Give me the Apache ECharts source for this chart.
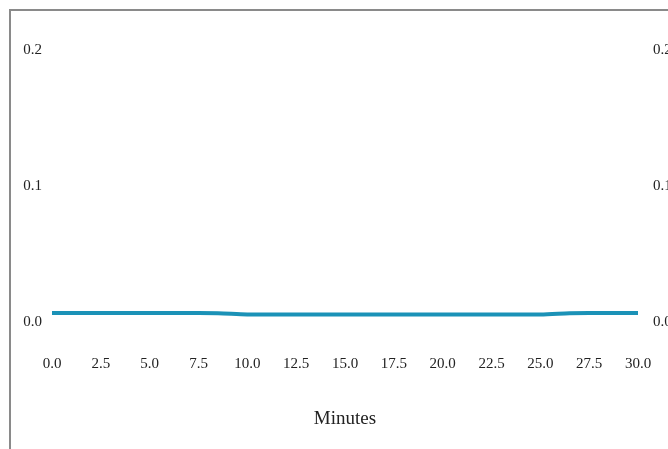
<!DOCTYPE html>
<html>
<head>
<meta charset="utf-8">
<script src="https://cdn.jsdelivr.net/npm/echarts@6/dist/echarts.min.js"></script>
<style>
  html, body { margin: 0; padding: 0; background: #fff; }
  #chart { width: 668px; height: 449px; }
</style>
</head>
<body>
<div id="chart"></div>
<script>
// Sampled readings over half an hour
const minutes = [0, 2.5, 5, 7.5, 8.5, 10, 12.5, 15, 17.5, 20, 22.5, 25, 26.5, 27.5, 30];
const values  = [0.0066, 0.0066, 0.0066, 0.0066, 0.0065, 0.0056, 0.0055, 0.0055, 0.0055, 0.0055, 0.0055, 0.0055, 0.0064, 0.0066, 0.0066];

const xTicks = [0, 30, 2.5];      // min, max, step
const yTicks = [0, 0.2, 0.1];     // min, max, step
const xTitle = 'Minutes';

const font = "'Liberation Serif', 'Times New Roman', serif";
const labelStyle = { fontFamily: font, fontSize: 15, color: '#222' };

const chart = echarts.init(document.getElementById('chart'), null, { renderer: 'canvas' });

chart.setOption({
  animation: false,
  backgroundColor: '#fff',
  graphic: [{
    type: 'rect',
    shape: { x: 10, y: 10, width: 700, height: 500 },
    style: { fill: 'none', stroke: '#8a8a8a', lineWidth: 2 },
    silent: true
  }],
  grid: { left: 52, right: 30, top: 50, bottom: 127, outerBoundsMode: 'none', containLabel: false },
  xAxis: {
    type: 'value',
    min: xTicks[0], max: xTicks[1], interval: xTicks[2],
    axisLine: { show: false },
    axisTick: { show: false },
    splitLine: { show: false },
    axisLabel: Object.assign({ margin: 35, formatter: v => v.toFixed(1) }, labelStyle),
    name: xTitle,
    nameLocation: 'middle',
    nameGap: 88,
    nameTextStyle: { fontFamily: font, fontSize: 19, color: '#222', verticalAlign: 'top' }
  },
  yAxis: [
    {
      type: 'value', position: 'left',
      min: yTicks[0], max: yTicks[1], interval: yTicks[2],
      axisLine: { show: false }, axisTick: { show: false }, splitLine: { show: false },
      axisLabel: Object.assign({ margin: 10, formatter: v => v.toFixed(1) }, labelStyle)
    },
    {
      type: 'value', position: 'right',
      min: yTicks[0], max: yTicks[1], interval: yTicks[2],
      axisLine: { show: false }, axisTick: { show: false }, splitLine: { show: false },
      axisLabel: Object.assign({ margin: 15, formatter: v => v.toFixed(1) }, labelStyle)
    }
  ],
  series: [{
    type: 'line',
    data: minutes.map((m, i) => [m, values[i]]),
    showSymbol: false,
    smooth: 0.3,
    lineStyle: { color: '#1b92b7', width: 4 },
    itemStyle: { color: '#1b92b7' }
  }]
});
</script>
</body>
</html>
